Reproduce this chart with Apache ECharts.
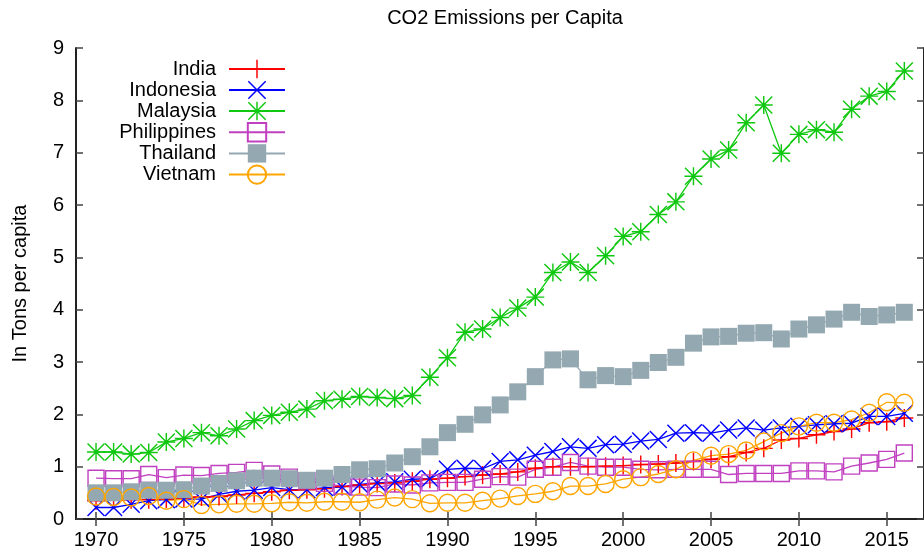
<!DOCTYPE html>
<html>
<head>
<meta charset="utf-8">
<script src="https://cdn.jsdelivr.net/npm/echarts@6/dist/echarts.min.js"></script>
<style>
  html, body { margin: 0; padding: 0; background: #fff; }
  #chart { width: 924px; height: 558px; }
</style>
</head>
<body>
<div id="chart"></div>
<script>
// years on the x axis
var years = [];
for (var y = 1970; y <= 2016; y++) years.push(y);
var tickYears = [1970, 1975, 1980, 1985, 1990, 1995, 2000, 2005, 2010, 2015];

// tons per capita
var india = [0.35, 0.36, 0.37, 0.37, 0.38, 0.40, 0.42, 0.43, 0.46, 0.49,
    0.52, 0.55, 0.56, 0.58, 0.62, 0.65, 0.68, 0.69, 0.72, 0.76,
    0.78, 0.81, 0.84, 0.86, 0.90, 0.97, 1.00, 1.00, 1.00, 1.01,
    1.02, 1.04, 1.05, 1.07, 1.10, 1.14, 1.19, 1.27, 1.35, 1.51,
    1.54, 1.61, 1.67, 1.72, 1.84, 1.86, 1.93];
var indonesia = [0.22, 0.22, 0.28, 0.35, 0.37, 0.38, 0.38, 0.47, 0.53, 0.55,
    0.60, 0.56, 0.56, 0.60, 0.61, 0.66, 0.69, 0.71, 0.76, 0.77,
    0.95, 0.97, 0.96, 1.10, 1.13, 1.22, 1.29, 1.38, 1.35, 1.42,
    1.43, 1.49, 1.52, 1.64, 1.65, 1.64, 1.70, 1.74, 1.70, 1.74,
    1.77, 1.80, 1.82, 1.83, 1.96, 1.96, 2.02];
var malaysia = [1.28, 1.28, 1.24, 1.27, 1.47, 1.54, 1.65, 1.59, 1.72, 1.88,
    1.98, 2.04, 2.10, 2.26, 2.29, 2.34, 2.32, 2.30, 2.36, 2.71,
    3.08, 3.57, 3.63, 3.85, 4.03, 4.24, 4.71, 4.91, 4.71, 5.03,
    5.40, 5.49, 5.82, 6.06, 6.55, 6.88, 7.05, 7.57, 7.91, 6.99,
    7.35, 7.44, 7.39, 7.83, 8.08, 8.17, 8.56];
var philippines = [0.78, 0.77, 0.77, 0.85, 0.79, 0.84, 0.83, 0.87, 0.89, 0.93,
    0.86, 0.80, 0.73, 0.68, 0.63, 0.61, 0.60, 0.67, 0.65, 0.69,
    0.70, 0.70, 0.76, 0.81, 0.80, 0.95, 0.99, 1.08, 1.01, 0.99,
    0.99, 0.95, 0.94, 0.95, 0.95, 0.95, 0.85, 0.87, 0.87, 0.87,
    0.92, 0.92, 0.90, 1.01, 1.07, 1.14, 1.26];
var thailand = [0.50, 0.50, 0.52, 0.55, 0.55, 0.56, 0.63, 0.68, 0.73, 0.78,
    0.78, 0.77, 0.74, 0.78, 0.85, 0.94, 0.96, 1.07, 1.19, 1.38,
    1.65, 1.81, 1.99, 2.18, 2.43, 2.72, 3.04, 3.06, 2.66, 2.74,
    2.72, 2.84, 2.99, 3.09, 3.36, 3.48, 3.49, 3.55, 3.56, 3.44,
    3.63, 3.71, 3.82, 3.95, 3.87, 3.90, 3.95];
var vietnam = [0.43, 0.42, 0.41, 0.44, 0.35, 0.38, 0.27, 0.28, 0.29, 0.29,
    0.30, 0.32, 0.31, 0.33, 0.33, 0.32, 0.37, 0.41, 0.38, 0.30,
    0.31, 0.31, 0.35, 0.39, 0.44, 0.48, 0.53, 0.63, 0.63, 0.67,
    0.76, 0.80, 0.86, 0.95, 1.12, 1.21, 1.24, 1.31, 1.48, 1.64,
    1.77, 1.84, 1.84, 1.90, 2.03, 2.23, 2.22];

var names = ['India', 'Indonesia', 'Malaysia', 'Philippines', 'Thailand', 'Vietnam'];
var values = [india, indonesia, malaysia, philippines, thailand, vietnam];
var colors = ['#ff0000', '#0000ff', '#10c810', '#c040c0', '#93a8b1', '#ffa500'];

// gnuplot style point shapes
var PLUS = 'path://M4.6,0h0.8v4.6h4.6v0.8h-4.6v4.6h-0.8v-4.6h-4.6v-0.8h4.6z';
var CROSS = 'path://M0,0.57L0.57,0L10,9.43L9.43,10Z M9.43,0L10,0.57L0.57,10L0,9.43Z';
var STAR = 'path://M4.6,0h0.8v4.6h4.6v0.8h-4.6v4.6h-0.8v-4.6h-4.6v-0.8h4.6z M0,0.57L0.57,0L10,9.43L9.43,10Z M9.43,0L10,0.57L0.57,10L0,9.43Z';
var symbols = [PLUS, CROSS, STAR, 'rect', 'rect', 'circle'];
var sizes = [18, 18, 18, 16, 17, 17];

var font = 'Liberation Sans, Arial, sans-serif';
var fs = 20;

function pairs(arr) {
    return years.map(function (yr, i) { return [yr, arr[i]]; });
}

var series = names.map(function (n, i) {
    var hollow = (n === 'Philippines' || n === 'Vietnam');
    return {
        name: n,
        type: 'line',
        data: pairs(values[i]),
        symbol: symbols[i],
        symbolSize: sizes[i],
        showAllSymbol: true,
        lineStyle: { color: colors[i], width: 1.3 },
        itemStyle: hollow
            ? { color: 'rgba(0,0,0,0)', borderColor: colors[i], borderWidth: 1.4 }
            : { color: colors[i], borderWidth: 0 },
        emphasis: { disabled: true }
    };
});

var axisLine = { show: true, lineStyle: { color: '#222', width: 2 } };
var tick = { show: true, inside: true, length: 7, lineStyle: { color: '#444', width: 1.5 } };

function xAx(pos, labels) {
    return {
        type: 'value', position: pos, min: 1968.86, max: 2017.12,
        axisLine: axisLine,
        axisTick: Object.assign({ customValues: tickYears }, tick),
        axisLabel: {
            show: labels, customValues: tickYears, color: '#000', fontFamily: font, fontSize: fs, margin: 11,
            formatter: function (v) { return String(v); }
        },
        splitLine: { show: false }
    };
}
function yAx(pos, labels) {
    return {
        type: 'value', position: pos, min: 0, max: 9, interval: 1,
        axisLine: axisLine,
        axisTick: tick,
        axisLabel: { show: labels, color: '#000', fontFamily: font, fontSize: fs, margin: 12 },
        splitLine: { show: false },
        name: labels ? 'In Tons per capita' : '',
        nameLocation: 'middle',
        nameRotate: 90,
        nameGap: 46,
        nameTextStyle: { color: '#000', fontFamily: font, fontSize: fs }
    };
}

var chart = echarts.init(document.getElementById('chart'));
chart.setOption({
    animation: false,
    backgroundColor: '#fff',
    title: {
        text: 'CO2 Emissions per Capita',
        left: 500, top: 3, textAlign: 'center',
        textStyle: { color: '#000', fontFamily: font, fontSize: fs, fontWeight: 'normal' }
    },
    legend: {
        data: names,
        orient: 'vertical',
        align: 'right',
        right: 638, top: 59,
        padding: 0,
        itemWidth: 56, itemHeight: 23, itemGap: 1,
        textStyle: { color: '#000', fontFamily: font, fontSize: fs, padding: [0, 8, 0, 0] }
    },
    grid: { left: 76, top: 48, right: -1, bottom: 39 },
    xAxis: [xAx('bottom', true), xAx('top', false)],
    yAxis: [yAx('left', true), yAx('right', false)],
    series: series
});
</script>
</body>
</html>
